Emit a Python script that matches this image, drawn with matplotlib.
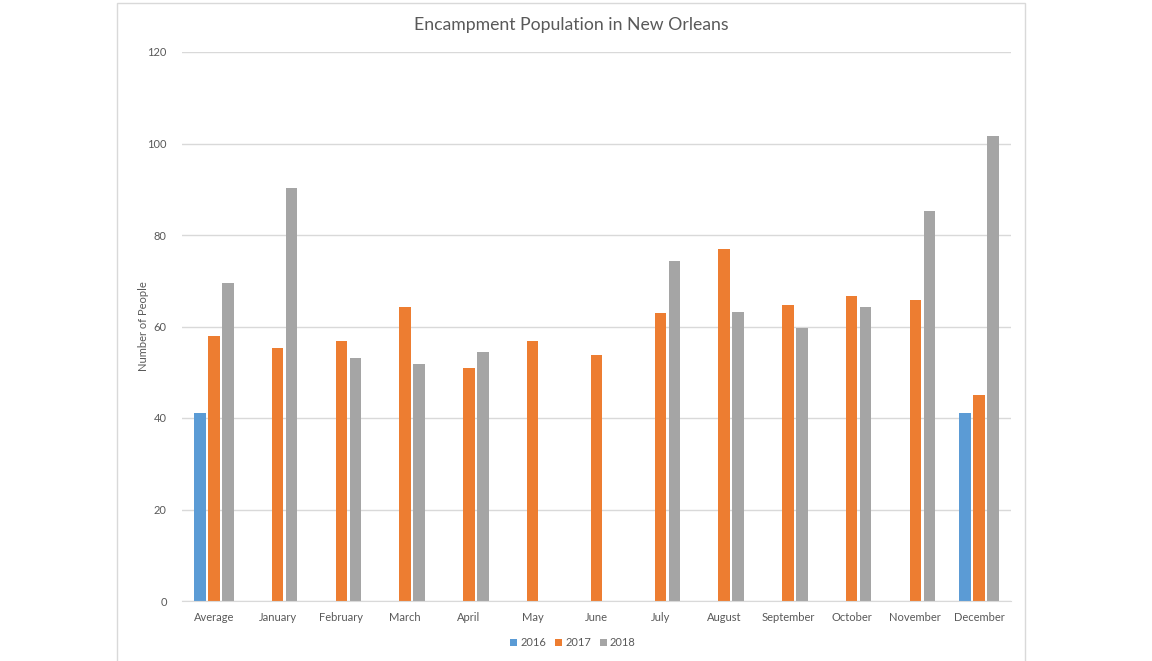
import numpy as np
import matplotlib
matplotlib.use("Agg")
import matplotlib.pyplot as plt
from matplotlib.patches import Rectangle

categories = ["Average", "January", "February", "March", "April", "May", "June",
              "July", "August", "September", "October", "November", "December"]
years = ["2016", "2017", "2018"]
v2016 = [41, None, None, None, None, None, None, None, None, None, None, None, 41]
v2017 = [58, 55.3, 56.8, 64.3, 50.9, 56.8, 53.8, 63, 76.9, 64.7, 66.7, 65.8, 45]
v2018 = [69.6, 90.3, 53.1, 51.8, 54.4, None, None, 74.3, 63.2, 59.7, 64.3, 85.2, 101.6]
colors = ["#5b9bd5", "#ed7d31", "#a5a5a5"]

plt.rcParams['font.family'] = ['Lato', 'DejaVu Sans']

fig = plt.figure(figsize=(11.52, 6.61), dpi=100)
fig.patch.set_facecolor("white")

# chart border
fig.patches.append(Rectangle((117 / 1152, -0.01), 908 / 1152, 1 - 3 / 661 + 0.01,
                             transform=fig.transFigure, fill=False,
                             edgecolor="#d9d9d9", linewidth=1))

ax = fig.add_axes([182 / 1152, 1 - 601 / 661, 829 / 1152, 549 / 661])

x = np.arange(len(categories))
w = 0.18
step = 0.22
for i, (vals, c, lab) in enumerate(zip([v2016, v2017, v2018], colors, years)):
    h = [v if v is not None else 0 for v in vals]
    ax.bar(x + (i - 1) * step, h, width=w, color=c, label=lab)

ax.set_xlim(-0.5, len(categories) - 0.5)
ax.set_ylim(0, 120)
ax.set_yticks(range(0, 121, 20))
ax.grid(axis="y", color="#d9d9d9", linewidth=1)
ax.set_axisbelow(True)
for s in ["top", "right", "left"]:
    ax.spines[s].set_visible(False)
ax.spines["bottom"].set_color("#d9d9d9")
ax.tick_params(axis="both", length=0, labelsize=8, labelcolor="#595959")
ax.tick_params(axis="y", pad=11)
ax.tick_params(axis="x", pad=8)
ax.set_xticks(x)
ax.set_xticklabels(categories)

ax.set_ylabel("Number of People", fontsize=8, color="#595959")
ax.yaxis.set_label_coords((149 - 182) / 829, 0.5)

fig.text(571 / 1152, 1 - 25 / 661, "Encampment Population in New Orleans",
         ha="center", va="center", fontsize=12.7, color="#595959")

fig.legend(loc="center", bbox_to_anchor=(573 / 1152, 1 - 643 / 661), ncol=3,
           frameon=False, fontsize=8, handlelength=0.6, handleheight=0.6,
           handletextpad=0.3, columnspacing=0.8, labelcolor="#595959")

fig.savefig("out.png", dpi=100)
